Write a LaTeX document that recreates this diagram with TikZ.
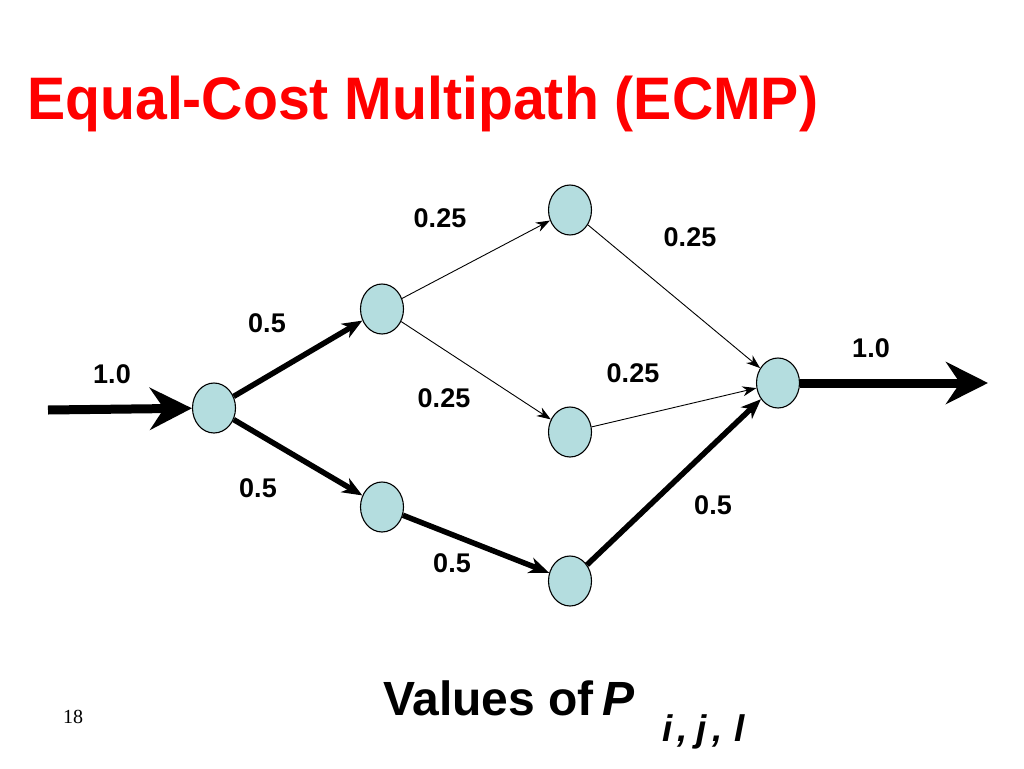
\documentclass[tikz,border=0pt]{standalone}
\usepackage{fontspec}
\setmainfont{Liberation Sans}
\newfontfamily\pagenumfont{Liberation Serif}
\usetikzlibrary{arrows.meta,shapes.geometric}
\definecolor{nodefill}{RGB}{180,221,223}
\definecolor{titlered}{RGB}{255,0,0}
\begin{document}
\begin{tikzpicture}[x=1pt,y=-1pt,
  vert/.style={ellipse, draw=black, line width=1.1pt, fill=nodefill, minimum width=43pt, minimum height=50pt, inner sep=0pt},
  lbl/.style={font=\fontsize{27}{32}\selectfont\bfseries, inner sep=0pt},
  thinedge/.style={-{Stealth[length=14pt,width=10pt,inset=4.5pt]}, line width=0.9pt},
  thickedge/.style={-{Stealth[length=20pt,width=16pt,inset=6pt]}, line width=5.5pt},
  hugeedge/.style={-{Stealth[length=42pt,width=42pt,inset=14pt]}, line width=9pt}
]
\useasboundingbox (0,0) rectangle (1024,768);
% title
\node[anchor=base west, inner sep=0pt, text=titlered, font=\fontsize{60}{66}\selectfont\bfseries] (title) at (27,119) {\scalebox{0.953}[1]{Equal-Cost Multipath (ECMP)}};
% vertices
\node[vert] (A) at (214,408) {};
\node[vert] (B) at (382,309) {};
\node[vert] (C) at (570,210) {};
\node[vert] (D) at (570,432) {};
\node[vert] (E) at (382,507) {};
\node[vert] (F) at (570,581) {};
\node[vert] (G) at (778,383) {};
\coordinate (in) at (48,410);
\coordinate (out) at (988,383);
% edges
\draw[hugeedge] (in) -- (A);
\draw[hugeedge] (G.east) -- (out);
\draw[thickedge] (A) -- (B);
\draw[thickedge] (A) -- (E);
\draw[thickedge] (E) -- (F);
\draw[thickedge] (F) -- (G);
\draw[thinedge] (B) -- (C);
\draw[thinedge] (B) -- (D);
\draw[thinedge] (C) -- (G);
\draw[thinedge] (D) -- (G);
% labels
\node[lbl] (l1) at (112,374) {1.0};
\node[lbl] (l2) at (267,323) {0.5};
\node[lbl] (l3) at (258,488) {0.5};
\node[lbl] (l4) at (440,218) {0.25};
\node[lbl] (l5) at (690,237) {0.25};
\node[lbl] (l6) at (444,398) {0.25};
\node[lbl] (l7) at (633,373) {0.25};
\node[lbl] (l8) at (871,348) {1.0};
\node[lbl] (l9) at (713,505) {0.5};
\node[lbl] (l10) at (452,563) {0.5};
% caption
\node[anchor=base west, inner sep=0pt, font=\fontsize{48}{54}\selectfont\bfseries] (cap) at (383,715) {Values of};
\node[anchor=base west, inner sep=0pt, font=\fontsize{48}{54}\selectfont\bfseries\itshape] (capP) at (602,715) {P};
\node[anchor=base west, inner sep=0pt, font=\fontsize{37}{42}\selectfont\bfseries\itshape] (capsub) at (662,741) {i\hspace{5pt},\hspace{9pt}j\hspace{5pt},\hspace{12pt}l};
% page number
\node[inner sep=0pt, font=\fontsize{20}{24}\selectfont\pagenumfont] (pg) at (73,717) {18};
\end{tikzpicture}
\end{document}
